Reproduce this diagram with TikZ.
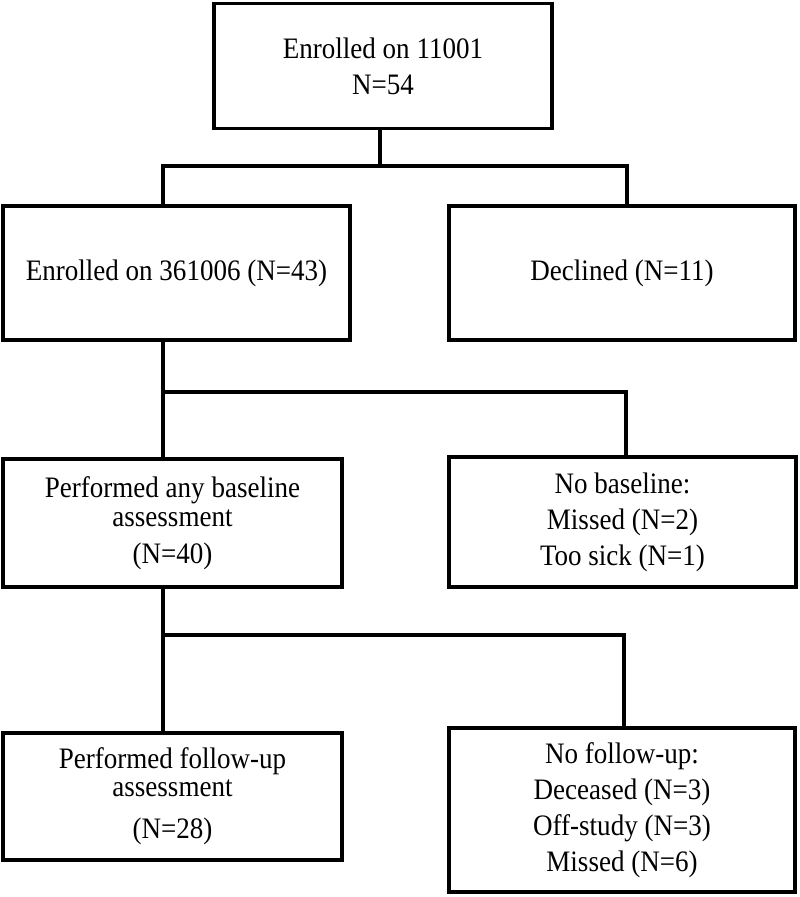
\documentclass[tikz,border=0pt]{standalone}
\usepackage{fontspec}
\setmainfont{Liberation Serif}[FakeStretch=0.91]
\begin{document}
\begin{tikzpicture}[x=1pt,y=-1pt,
  box/.style={draw=black,line width=3.5pt,rectangle,inner sep=0pt,align=center,
    font=\fontsize{29.7}{36}\selectfont},
  conn/.style={draw=black,line width=3.5pt}]
\useasboundingbox (0,0) rectangle (800,897);
\node[box,minimum width=338pt,minimum height=125pt] (top) at (383,66) {Enrolled on 11001\\N=54};
\node[box,minimum width=347pt,minimum height=134pt] (enr) at (176.5,273) {Enrolled on 361006 (N=43)};
\node[box,minimum width=346pt,minimum height=134pt] (dec) at (622,273) {Declined (N=11)};
\node[box,minimum width=339pt,minimum height=128pt,font=\fontsize{29.7}{29}\selectfont] (base) at (172.5,523) {Performed any baseline\\assessment\\[8pt](N=40)};
\node[box,minimum width=347pt,minimum height=130pt] (nob) at (622.5,522) {No baseline:\\Missed (N=2)\\Too sick (N=1)};
\node[box,minimum width=339pt,minimum height=127pt,font=\fontsize{29.7}{28}\selectfont] (fup) at (172.5,796.5) {Performed follow-up\\assessment\\[14pt](N=28)};
\node[box,minimum width=346pt,minimum height=164pt] (nofu) at (622,810) {No follow-up:\\Deceased (N=3)\\Off-study (N=3)\\Missed (N=6)};
% junctions
\coordinate (j1) at (380,166);
\coordinate (j1l) at (163,166);
\coordinate (j1r) at (627,166);
\coordinate (j2l) at (163,392);
\coordinate (j2r) at (626,392);
\coordinate (j3l) at (163,635);
\coordinate (j3r) at (624,635);
\draw[conn] (top.south -| j1) -- (j1);
\draw[conn] (j1l |- enr.north) -- (j1l) -- (j1r) -- (j1r |- dec.north);
\draw[conn] (j2l |- enr.south) -- (j2l |- base.north);
\draw[conn] (j2l) -- (j2r) -- (j2r |- nob.north);
\draw[conn] (j3l |- base.south) -- (j3l |- fup.north);
\draw[conn] (j3l) -- (j3r) -- (j3r |- nofu.north);
\end{tikzpicture}
\end{document}
